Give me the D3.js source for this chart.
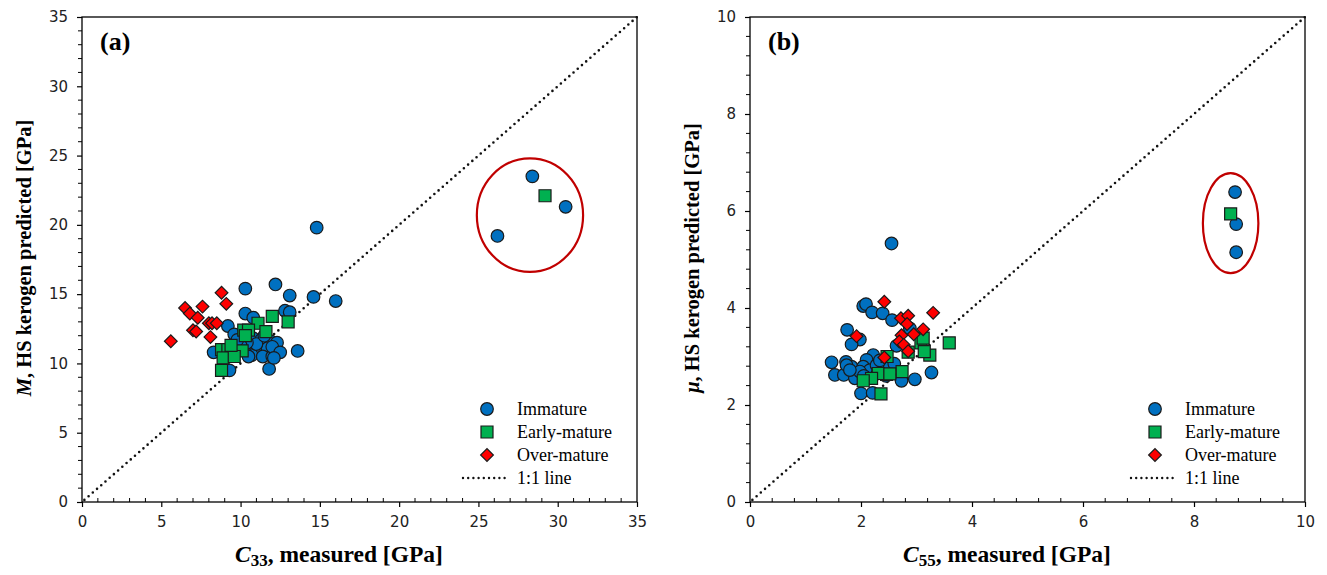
<!DOCTYPE html>
<html>
<head>
<meta charset="utf-8">
<script src="https://cdn.jsdelivr.net/npm/d3@7"></script>
<style>
  html, body { margin: 0; padding: 0; background: #fff; }
  svg { display: block; }
</style>
</head>
<body>
<svg id="chart" width="1327" height="575"></svg>
<script>
// ---- Panel (a): M predicted vs C33 measured [GPa] ----
const immatureA = [
  [14.8, 19.8], [12.2, 15.7], [10.3, 15.4], [13.1, 14.9], [14.6, 14.8], [16.0, 14.5],
  [10.3, 13.6], [10.8, 13.3], [12.8, 13.8], [13.1, 13.7], [9.2, 12.7], [9.6, 12.1],
  [13.6, 10.9], [8.3, 10.8], [11.8, 9.6], [9.3, 9.5],
  [10.8, 11.8], [11.3, 11.7], [11.9, 11.6], [12.3, 11.5], [10.8, 11.2], [11.2, 11.0],
  [11.7, 11.1], [10.7, 10.6], [11.4, 10.5], [12.0, 10.5], [10.2, 11.0], [11.0, 11.4],
  [10.4, 11.5], [10.0, 11.3], [12.0, 11.2], [12.5, 10.8], [12.1, 10.4], [10.5, 10.5],
  [11.5, 12.0], [9.8, 11.7],
  [26.2, 19.2], [28.4, 23.5], [30.5, 21.3]
];
const earlyA = [
  [12.0, 13.4], [13.0, 13.0], [11.1, 12.9], [11.6, 12.3], [10.2, 12.4], [10.5, 12.4],
  [10.3, 12.0], [8.8, 11.0], [9.2, 11.0], [10.1, 10.9], [8.9, 10.4], [9.6, 10.5],
  [8.8, 9.5], [9.4, 11.3],
  [29.2, 22.1]
];
const overA = [
  [5.6, 11.6], [6.5, 14.0], [6.8, 13.6], [7.6, 14.1], [8.8, 15.1], [9.1, 14.3],
  [7.3, 13.3], [7.0, 12.4], [7.2, 12.3], [8.1, 11.9], [8.0, 12.9], [8.2, 12.9], [8.5, 12.9]
];
const ticksA = [0, 5, 10, 15, 20, 25, 30, 35];

// ---- Panel (b): mu predicted vs C55 measured [GPa] ----
const immatureB = [
  [2.55, 5.33], [2.04, 4.04], [2.09, 4.08], [2.20, 3.91], [2.39, 3.89], [2.56, 3.75],
  [1.75, 3.55], [1.98, 3.35], [1.83, 3.25], [2.88, 3.58], [2.64, 3.22], [1.47, 2.88],
  [1.73, 2.89], [1.53, 2.62], [1.69, 2.62], [1.83, 2.79], [1.89, 2.55], [2.00, 2.24],
  [2.21, 2.25], [2.22, 3.03], [2.10, 2.93], [2.04, 2.79], [2.16, 2.72], [2.28, 2.82],
  [1.98, 2.69], [2.40, 2.72], [2.52, 2.79], [2.73, 2.50], [2.97, 2.53], [3.27, 2.67],
  [1.74, 2.82], [1.80, 2.72], [2.34, 2.92], [2.60, 2.85], [2.45, 2.60], [2.05, 2.60],
  [2.30, 2.65],
  [8.74, 6.39], [8.76, 5.73], [8.76, 5.15]
];
const earlyB = [
  [3.59, 3.28], [3.08, 3.28], [3.12, 3.38], [3.24, 3.03], [3.14, 3.10], [2.85, 3.09],
  [2.47, 3.00], [2.74, 2.69], [2.46, 2.63], [2.31, 2.65], [2.19, 2.55], [2.04, 2.50],
  [2.36, 2.23], [2.52, 2.64],
  [8.66, 5.94]
];
const overB = [
  [2.42, 4.13], [3.30, 3.90], [2.72, 3.79], [2.85, 3.84], [2.83, 3.67], [3.12, 3.56],
  [2.95, 3.46], [2.73, 3.44], [2.69, 3.31], [2.77, 3.24], [2.85, 3.11], [1.92, 3.42],
  [2.42, 2.98]
];
const ticksB = [0, 2, 4, 6, 8, 10];

// Outlier groups ringed in each panel: [cx, cy, rx, ry] in data units
const ringA = [28.25, 20.7, 3.35, 4.1];
const ringB = [8.66, 5.75, 0.5, 1.03];

const legendLabels = ["Immature", "Early-mature", "Over-mature", "1:1 line"];

const COLORS = { immature: "#0070C0", early: "#00B050", over: "#FF0000", ring: "#C00000" };
const SERIF = "'Liberation Serif', 'Times New Roman', serif";
const SANS = "'DejaVu Sans', Verdana, sans-serif";

const svg = d3.select("#chart");

function drawPanel(cfg) {
  const x = d3.scaleLinear().domain([0, cfg.max]).range([cfg.left, cfg.left + 555]);
  const y = d3.scaleLinear().domain([0, cfg.max]).range([502, 17]);
  const g = svg.append("g");

  // minor ticks
  const minor = d3.range(0, cfg.max + 1e-9, cfg.minor).filter(v => !cfg.ticks.some(t => Math.abs(t - v) < 1e-9));
  g.selectAll(".mx").data(minor).join("line")
    .attr("x1", d => x(d)).attr("x2", d => x(d)).attr("y1", 502).attr("y2", 498)
    .attr("stroke", "#000").attr("stroke-width", 1);
  g.selectAll(".my").data(minor).join("line")
    .attr("x1", cfg.left - 4).attr("x2", cfg.left).attr("y1", d => y(d)).attr("y2", d => y(d))
    .attr("stroke", "#000").attr("stroke-width", 1);

  // axes
  const xAxis = d3.axisBottom(x).tickValues(cfg.ticks).tickSize(5).tickPadding(9);
  const yAxis = d3.axisLeft(y).tickValues(cfg.ticks).tickSize(5).tickPadding(9);
  const gx = g.append("g").attr("transform", "translate(0,502)").call(xAxis);
  const gy = g.append("g").attr("transform", `translate(${cfg.left},0)`).call(yAxis);
  [gx, gy].forEach(a => {
    a.select(".domain").remove();
    a.selectAll("line").attr("stroke", "#000").attr("stroke-width", 1.2);
    a.selectAll("text").attr("font-family", SANS).attr("font-size", 15).attr("fill", "#222");
  });

  // frame
  g.append("rect").attr("x", cfg.left).attr("y", 17).attr("width", 555).attr("height", 485)
    .attr("fill", "none").attr("stroke", "#000").attr("stroke-width", 1.3);

  // 1:1 line
  const line = d3.line().x(d => x(d[0])).y(d => y(d[1]));
  g.append("path").attr("d", line([[0.15 * cfg.max / 35, 0.15 * cfg.max / 35], [cfg.max, cfg.max]]))
    .attr("fill", "none").attr("stroke", "#111").attr("stroke-width", 2.6)
    .attr("stroke-linecap", "round").attr("stroke-dasharray", "0,5.6");

  // outlier ring
  g.append("ellipse")
    .attr("cx", x(cfg.ring[0])).attr("cy", y(cfg.ring[1]))
    .attr("rx", x(cfg.ring[2]) - x(0)).attr("ry", y(0) - y(cfg.ring[3]))
    .attr("fill", "none").attr("stroke", COLORS.ring).attr("stroke-width", 2.2);

  // markers
  const circ = d3.symbol().type(d3.symbolCircle).size(Math.PI * 6.3 * 6.3);
  const sq = d3.symbol().type(d3.symbolSquare).size(12 * 12);
  const dia = d3.symbol().type(d3.symbolSquare).size(9 * 9);
  const stroke = sel => sel.attr("stroke", "#1a1a1a").attr("stroke-width", 1.2);

  g.append("g").selectAll("path").data(cfg.immature).join("path")
    .attr("d", circ).attr("transform", d => `translate(${x(d[0])},${y(d[1])})`)
    .attr("fill", COLORS.immature).call(stroke);
  g.append("g").selectAll("path").data(cfg.early).join("path")
    .attr("d", sq).attr("transform", d => `translate(${x(d[0])},${y(d[1])})`)
    .attr("fill", COLORS.early).call(stroke);
  g.append("g").selectAll("path").data(cfg.over).join("path")
    .attr("d", dia).attr("transform", d => `translate(${x(d[0])},${y(d[1])}) rotate(45)`)
    .attr("fill", COLORS.over).call(stroke);

  // panel label
  g.append("text").attr("x", cfg.left + 18).attr("y", 50).text(cfg.tag)
    .attr("font-family", SERIF).attr("font-weight", "bold").attr("font-size", 26).attr("fill", "#000");

  // legend
  const lx = cfg.left + 405, ly = 409, gap = 23;
  const lg = g.append("g");
  lg.append("path").attr("d", circ).attr("transform", `translate(${lx},${ly})`).attr("fill", COLORS.immature).call(stroke);
  lg.append("path").attr("d", sq).attr("transform", `translate(${lx},${ly + gap})`).attr("fill", COLORS.early).call(stroke);
  lg.append("path").attr("d", dia).attr("transform", `translate(${lx},${ly + 2 * gap}) rotate(45)`).attr("fill", COLORS.over).call(stroke);
  lg.append("line").attr("x1", lx - 24).attr("x2", lx + 18).attr("y1", ly + 3 * gap).attr("y2", ly + 3 * gap)
    .attr("stroke", "#111").attr("stroke-width", 2.4).attr("stroke-linecap", "round").attr("stroke-dasharray", "0,5.2");
  lg.selectAll("text").data(legendLabels).join("text")
    .attr("x", lx + 30).attr("y", (d, i) => ly + i * gap + 6).text(d => d)
    .attr("font-family", SERIF).attr("font-size", 18).attr("fill", "#000");

  // axis titles
  const xt = g.append("text").attr("x", cfg.left + 257).attr("y", 562)
    .attr("text-anchor", "middle").attr("font-family", SERIF).attr("font-weight", "bold")
    .attr("font-size", 23.5).attr("fill", "#000");
  xt.append("tspan").attr("font-style", "italic").text("C");
  xt.append("tspan").attr("font-size", 17).attr("dy", 4).text(cfg.sub);
  xt.append("tspan").attr("dy", -4).text(", measured [GPa]");

  const yt = g.append("text")
    .attr("transform", `translate(${cfg.left - 51},${258}) rotate(-90)`)
    .attr("text-anchor", "middle").attr("font-family", SERIF).attr("font-weight", "bold")
    .attr("font-size", 20.5).attr("fill", "#000");
  yt.append("tspan").attr("font-style", "italic").text(cfg.sym);
  yt.append("tspan").text(", HS kerogen predicted [GPa]");
}

drawPanel({ left: 82, max: 35, minor: 1, ticks: ticksA, immature: immatureA, early: earlyA, over: overA,
  ring: ringA, tag: "(a)", sub: "33", sym: "M" });
drawPanel({ left: 750, max: 10, minor: 0.4, ticks: ticksB, immature: immatureB, early: earlyB, over: overB,
  ring: ringB, tag: "(b)", sub: "55", sym: "μ" });
</script>
</body>
</html>
